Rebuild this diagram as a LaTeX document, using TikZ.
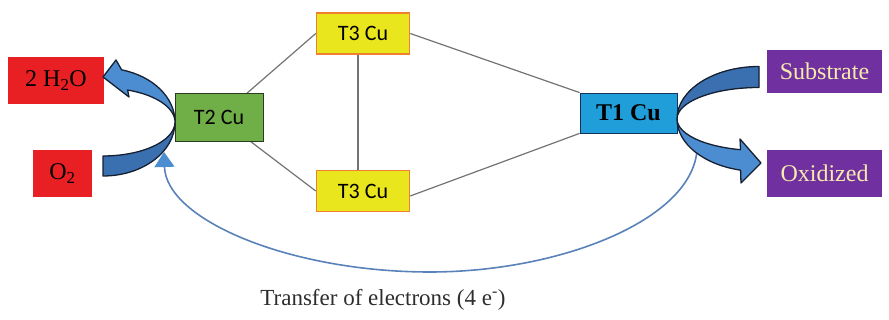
\documentclass[tikz,border=0pt]{standalone}
\usepackage{fontspec}
\setmainfont{Liberation Serif}
\newfontfamily\calibrifont{Carlito}
\usetikzlibrary{arrows.meta}

\definecolor{boxred}{RGB}{232,32,36}
\definecolor{boxgreen}{RGB}{112,174,72}
\definecolor{greenedge}{RGB}{40,60,35}
\definecolor{boxyellow}{RGB}{234,230,30}
\definecolor{boxorange}{RGB}{240,128,48}
\definecolor{boxblue}{RGB}{32,158,218}
\definecolor{blueedge}{RGB}{20,50,90}
\definecolor{boxpurple}{RGB}{112,48,160}
\definecolor{paleyellow}{RGB}{246,234,172}
\definecolor{arrowlight}{RGB}{76,140,208}
\definecolor{arrowdark}{RGB}{58,112,176}
\definecolor{edgedark}{RGB}{22,32,48}
\definecolor{linkgray}{RGB}{115,115,115}
\definecolor{loopblue}{RGB}{90,130,186}
\definecolor{captiongray}{RGB}{45,45,45}

\tikzset{
  box/.style={inner sep=0pt, align=center},
  serifbig/.style={font=\fontsize{24}{24}\selectfont},
  redbox/.style={box, serifbig, fill=boxred, text=black},
  purplebox/.style={box, serifbig, fill=boxpurple, text=paleyellow,
    minimum width=115pt},
  t3box/.style={box, fill=boxyellow, draw=boxorange, line width=1.5pt,
    font=\calibrifont\fontsize{22}{22}\selectfont,
    minimum width=93pt, minimum height=41pt},
  t2box/.style={box, fill=boxgreen, draw=greenedge, line width=0.8pt,
    font=\calibrifont\fontsize{22}{22}\selectfont,
    minimum width=88pt, minimum height=48pt},
  t1box/.style={box, fill=boxblue, draw=blueedge, line width=0.8pt,
    font=\bfseries\fontsize{24}{24}\selectfont,
    minimum width=97pt, minimum height=40pt},
  link/.style={draw=linkgray, line width=1.2pt},
  bigarrow/.style={fill=arrowlight},
  bigarrowback/.style={fill=arrowdark},
  bigarrowedge/.style={draw=edgedark, line width=1.3pt, line join=round},
  electronloop/.style={draw=loopblue, line width=1.6pt,
    -{Triangle[width=20pt,length=15pt,color=arrowlight]}},
}

\begin{document}
\begin{tikzpicture}[x=1pt,y=1pt]
\useasboundingbox (0,0) rectangle (889,320);

% copper sites
\node[t3box] (T3a) at (363,286.5) {T3 Cu};
\node[t3box] (T3b) at (363,129) {T3 Cu};
\node[t2box] (T2) at (219,202.5) {T2 Cu};
\node[t1box] (T1) at (628.5,207) {T1 Cu};

% substrates and products
\node[redbox, minimum width=96pt, minimum height=47pt] (water) at (56,239.5) {2 H\textsubscript{2}O};
\node[redbox, minimum width=59pt, minimum height=47pt] (oxygen) at (62.5,146.5) {O\textsubscript{2}};
\node[purplebox, minimum height=43pt] (substrate) at (824.5,248.5) {Substrate};
\node[purplebox, minimum height=47pt] (oxidized) at (824.5,146.5) {Oxidized};

% links between the copper sites
\path[link] (T2) -- (T3a.west);
\path[link] (T2) -- (T3b.west);
\path[link] ([xshift=-5pt]T3a.south) -- ([xshift=-5pt]T3b.north);
\path[link] (T3a.east) -- (T1.north west);
\path[link] ([yshift=-5pt]T3b.east) -- (T1.south west);

% redraw the boxes on top of the links
\node[t3box] at (T3a) {T3 Cu};
\node[t3box] at (T3b) {T3 Cu};
\node[t2box] at (T2) {T2 Cu};
\node[t1box] at (T1) {T1 Cu};

% curved arrow: O2 -> T2 -> 2 H2O
\begin{scope}[shift={(103,198)}]
  \path[bigarrow] (0,-54) arc[start angle=-90, end angle=75, x radius=72, y radius=54]
    -- (13,62) -- (0,45) -- (26,25) -- (70:72 and 34)
    arc[start angle=70, end angle=-90, x radius=72, y radius=34] -- cycle;
  \path[bigarrowback] (0,-54) arc[start angle=-90, end angle=0, x radius=72, y radius=54]
    arc[start angle=0, end angle=-90, x radius=72, y radius=34] -- cycle;
  \path[bigarrowedge] (0,-54) arc[start angle=-90, end angle=75, x radius=72, y radius=54]
    -- (13,62) -- (0,45) -- (26,25) -- (70:72 and 34)
    arc[start angle=70, end angle=-90, x radius=72, y radius=34] -- cycle;
\end{scope}

% electron transfer from T1 back to T2
\coordinate (eStart) at (697,170);
\coordinate (eLow) at (430,48);
\coordinate (eEnd) at (164,168);
\draw[electronloop] (eStart) .. controls (692,100) and (560,48) .. (eLow)
  .. controls (290,48) and (166,100) .. (eEnd);

% curved arrow: Substrate -> T1 -> Oxidized
\begin{scope}[shift={(759,201)}]
  \path[bigarrow] (0,52.5) arc[start angle=90, end angle=257, x radius=82, y radius=52.5]
    -- (-18,-64) -- (2,-44) -- (-19,-20) -- (257:82 and 31.5)
    arc[start angle=257, end angle=90, x radius=82, y radius=31.5] -- cycle;
  \path[bigarrowback] (0,52.5) arc[start angle=90, end angle=180, x radius=82, y radius=52.5]
    arc[start angle=180, end angle=90, x radius=82, y radius=31.5] -- cycle;
  \path[bigarrowedge] (0,52.5) arc[start angle=90, end angle=257, x radius=82, y radius=52.5]
    -- (-18,-64) -- (2,-44) -- (-19,-20) -- (257:82 and 31.5)
    arc[start angle=257, end angle=90, x radius=82, y radius=31.5] -- cycle;
\end{scope}

% caption
\node[text=captiongray, font=\fontsize{23}{23}\selectfont] (caption) at (383,20)
  {Transfer of electrons (4 e\textsuperscript{-})};
\end{tikzpicture}
\end{document}
